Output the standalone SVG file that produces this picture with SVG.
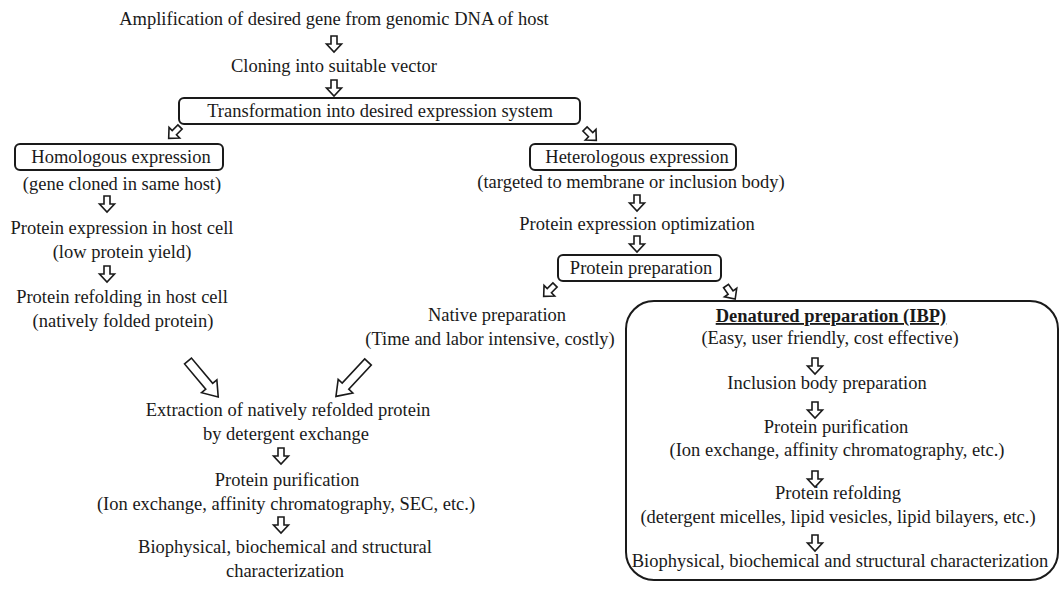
<svg xmlns="http://www.w3.org/2000/svg" width="1062" height="592" viewBox="0 0 1062 592" font-family="'Liberation Serif', Tinos, 'Times New Roman', 'DejaVu Serif', serif">
<style>
text{font-family:'Liberation Serif',Tinos,'Times New Roman','DejaVu Serif',serif;font-size:18.5px;fill:#1a1a1a;text-anchor:middle}
.box{fill:none;stroke:#1a1a1a;stroke-width:2}
.arr{fill:#fff;stroke:#1a1a1a;stroke-width:1.6;stroke-linejoin:miter}
.b{font-weight:bold;text-decoration:underline}
</style>
<defs>
<path id="a" class="arr" d="M-3,0 H3 V8 H7.5 L0,16 L-7.5,8 H-3 Z"/>
<path id="A" class="arr" d="M-4.5,0 H4.5 V33 H10 L0,47 L-10,33 H-4.5 Z"/>
</defs>
<rect width="1062" height="592" fill="#fff"/>

<g id="connectors">
<use href="#a" x="334" y="36"/>
<use href="#a" x="334" y="80"/>
<use href="#a" transform="translate(180,127) rotate(45)"/>
<use href="#a" transform="translate(585,129) rotate(-45)"/>
<use href="#a" x="107" y="196"/>
<use href="#a" x="107" y="266"/>
<use href="#a" x="637" y="195"/>
<use href="#a" x="637" y="236"/>
<use href="#a" transform="translate(555,285) rotate(45)"/>
<use href="#a" transform="translate(726,286) rotate(-35)"/>
<use href="#A" transform="translate(188,361) rotate(-40)"/>
<use href="#A" transform="translate(368,362) rotate(43)"/>
<use href="#a" x="281" y="448"/>
<use href="#a" x="281" y="517"/>
<use href="#a" x="815" y="358"/>
<use href="#a" x="815" y="402"/>
<use href="#a" x="815" y="471"/>
<use href="#a" x="815" y="535"/>
</g>

<g id="n-amplification"><text x="334" y="25">Amplification of desired gene from genomic DNA of host</text></g>
<g id="n-cloning"><text x="334" y="72">Cloning into suitable vector</text></g>
<g id="n-transformation"><rect class="box" x="179" y="98" width="401" height="26" rx="5"/><text x="380" y="117">Transformation into desired expression system</text></g>

<g id="n-homologous"><rect class="box" x="15" y="144" width="208" height="26" rx="5"/><text x="121" y="163">Homologous expression</text><text x="122" y="190">(gene cloned in same host)</text></g>
<g id="n-host-expression"><text x="122" y="234">Protein expression in host cell</text><text x="122" y="258">(low protein yield)</text></g>
<g id="n-host-refolding"><text x="122" y="303">Protein refolding in host cell</text><text x="123" y="327">(natively folded protein)</text></g>

<g id="n-heterologous"><rect class="box" x="530" y="144" width="206" height="26" rx="5"/><text x="637" y="163">Heterologous expression</text><text x="631" y="188">(targeted to membrane or inclusion body)</text></g>
<g id="n-optimization"><text x="637" y="230">Protein expression optimization</text></g>
<g id="n-preparation"><rect class="box" x="558" y="255" width="163" height="26" rx="5"/><text x="641" y="274">Protein preparation</text></g>
<g id="n-native"><text x="497" y="321">Native preparation</text><text x="490" y="345">(Time and labor intensive, costly)</text></g>

<g id="n-extraction"><text x="288" y="416">Extraction of natively refolded protein</text><text x="286" y="440">by detergent exchange</text></g>
<g id="n-purification-left"><text x="287" y="486">Protein purification</text><text x="286" y="510">(Ion exchange, affinity chromatography, SEC, etc.)</text></g>
<g id="n-characterization-left"><text x="285" y="553">Biophysical, biochemical and structural</text><text x="285" y="577">characterization</text></g>

<g id="n-denatured">
<rect class="box" x="626" y="301" width="432" height="279" rx="28" stroke-width="1.5"/>
<text class="b" x="831" y="322">Denatured preparation (IBP)</text>
<text x="830" y="344">(Easy, user friendly, cost effective)</text>
<text x="827" y="389">Inclusion body preparation</text>
<text x="836" y="433">Protein purification</text>
<text x="837" y="456">(Ion exchange, affinity chromatography, etc.)</text>
<text x="838" y="499">Protein refolding</text>
<text x="838" y="523">(detergent micelles, lipid vesicles, lipid bilayers, etc.)</text>
<text x="840" y="567">Biophysical, biochemical and structural characterization</text>
</g>
</svg>
